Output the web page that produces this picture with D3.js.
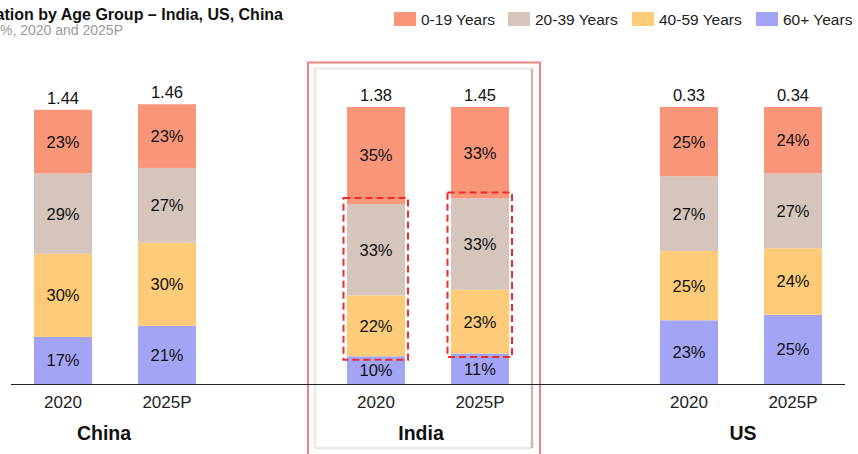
<!DOCTYPE html>
<html>
<head>
<meta charset="utf-8">
<script src="https://cdn.jsdelivr.net/npm/d3@7"></script>
<style>
  html, body { margin: 0; padding: 0; background: #fff; }
  svg { display: block; font-family: "Liberation Sans", Arial, sans-serif; }
</style>
</head>
<body>
<svg id="chart" width="858" height="454"></svg>
<script>
// Population by age group, share in %, with totals (bn)
const countries = ["China", "India", "US"];
const years = ["2020", "2025P"];
const ageGroups = ["0-19 Years", "20-39 Years", "40-59 Years", "60+ Years"];
const totals = {
  China: ["1.44", "1.46"],
  India: ["1.38", "1.45"],
  US: ["0.33", "0.34"]
};
// shares listed bottom-up: 60+, 40-59, 20-39, 0-19
const share60 = { China: [17, 21], India: [10, 11], US: [23, 25] };
const share40 = { China: [30, 30], India: [22, 23], US: [25, 24] };
const share20 = { China: [29, 27], India: [33, 33], US: [27, 27] };
const share0 = { China: [23, 23], India: [35, 33], US: [25, 24] };

const colors = {
  "0-19 Years": "#F9967A",
  "20-39 Years": "#D6C5BD",
  "40-59 Years": "#FECC78",
  "60+ Years": "#A4A4F6"
};

const svg = d3.select("#chart");
const baseY = 384;

const x0 = d3.scaleBand().domain(countries).range([-41.5, 897.5]);
const x1 = d3.scaleBand().domain(years).range([0, x0.bandwidth()])
  .paddingInner(0.4423).paddingOuter(0.726);
const y = d3.scaleLinear().domain([0, 100]).range([baseY, 107]);

// rows for stacking
const rows = [];
countries.forEach(c => years.forEach((yr, i) => {
  rows.push({
    country: c, year: yr, total: totals[c][i],
    "60+ Years": share60[c][i],
    "40-59 Years": share40[c][i],
    "20-39 Years": share20[c][i],
    "0-19 Years": share0[c][i]
  });
}));
const stackKeys = ["60+ Years", "40-59 Years", "20-39 Years", "0-19 Years"];
const series = d3.stack().keys(stackKeys)(rows);

const barX = d => x0(d.data.country) + x1(d.data.year);

// India highlight frames
const indiaL = x0("India") + x0.bandwidth() / 2 - 120;
const indiaR = x0("India") + x0.bandwidth() / 2 + 112;
svg.append("rect")
  .attr("x", indiaL).attr("y", 62.5)
  .attr("width", indiaR - indiaL).attr("height", 420)
  .attr("fill", "none").attr("stroke", "#EC8585").attr("stroke-width", 2);
const inner = svg.append("g");
inner.append("path")
  .attr("d", `M${indiaL + 7},448 V68.5 H${indiaR - 8}`)
  .attr("fill", "none").attr("stroke", "#EAEAEA").attr("stroke-width", 2);
inner.append("path")
  .attr("d", `M${indiaL + 7},448 H${indiaR - 8}`)
  .attr("fill", "none").attr("stroke", "#E6E6E6").attr("stroke-width", 2);
inner.append("path")
  .attr("d", `M${indiaR - 8},68.5 V448`)
  .attr("fill", "none").attr("stroke", "#BDBDBD").attr("stroke-width", 2.5);

// bars
const layers = svg.append("g").selectAll("g").data(series).join("g")
  .attr("fill", s => colors[s.key]);
layers.selectAll("rect").data(s => s).join("rect")
  .attr("x", barX)
  .attr("width", x1.bandwidth())
  .attr("y", d => y(d[1]))
  .attr("height", d => y(d[0]) - y(d[1]));

// segment percentage labels
const lbl = svg.append("g").attr("font-size", 16.5).attr("fill", "#111")
  .attr("text-anchor", "middle");
series.forEach(s => {
  s.forEach(d => {
    lbl.append("text")
      .attr("x", barX(d) + x1.bandwidth() / 2)
      .attr("y", (y(d[0]) + y(d[1])) / 2)
      .attr("dy", "0.36em")
      .text((d[1] - d[0]) + "%");
  });
});

// totals above bars
const topLayer = series[series.length - 1];
svg.append("g").attr("font-size", 16.5).attr("fill", "#111").attr("text-anchor", "middle")
  .selectAll("text").data(topLayer).join("text")
  .attr("x", d => barX(d) + x1.bandwidth() / 2)
  .attr("y", d => y(d[1]) - 6)
  .text(d => d.data.total);

// dashed highlight around the working-age segments in India
topLayer.filter(d => d.data.country === "India").forEach(d => {
  const r = d.data;
  const lo = r["60+ Years"];
  const hi = lo + r["40-59 Years"] + r["20-39 Years"];
  const bx = barX(d);
  svg.append("rect")
    .attr("x", bx - 3.5).attr("y", y(hi) - 6)
    .attr("width", x1.bandwidth() + 6.5)
    .attr("height", y(lo) - y(hi) + 9.5)
    .attr("fill", "none").attr("stroke", "#EE2A2A").attr("stroke-width", 2)
    .attr("stroke-dasharray", "7,4");
});

// baseline
svg.append("line").attr("x1", 11).attr("x2", 845)
  .attr("y1", baseY + 0.5).attr("y2", baseY + 0.5)
  .attr("stroke", "#222").attr("stroke-width", 1.2);

// year labels
const yl = svg.append("g").attr("font-size", 17).attr("fill", "#222").attr("text-anchor", "middle");
countries.forEach(c => years.forEach(yr => {
  yl.append("text")
    .attr("x", x0(c) + x1(yr) + x1.bandwidth() / 2)
    .attr("y", 408)
    .text(yr);
}));

// country labels, nudged slightly per group
const countryNudge = { China: -11, India: -7, US: 2 };
svg.append("g").attr("font-size", 19.5).attr("font-weight", "bold").attr("fill", "#111")
  .attr("text-anchor", "middle")
  .selectAll("text").data(countries).join("text")
  .attr("x", c => x0(c) + x0.bandwidth() / 2 + countryNudge[c])
  .attr("y", 440)
  .text(c => c);

// title and subtitle (left edge runs past the frame)
svg.append("text").attr("x", 283).attr("y", 20).attr("text-anchor", "end")
  .attr("font-size", 16).attr("font-weight", "bold").attr("fill", "#111")
  .text("Population by Age Group – India, US, China");
svg.append("text").attr("x", 123).attr("y", 35).attr("text-anchor", "end")
  .attr("font-size", 14).attr("fill", "#9A9A9A")
  .text("In %, 2020 and 2025P");

// legend
const legendX = [394, 508, 632, 756];
const lg = svg.append("g");
ageGroups.forEach((k, i) => {
  lg.append("rect").attr("x", legendX[i]).attr("y", 12)
    .attr("width", 22).attr("height", 14).attr("fill", colors[k]);
  lg.append("text").attr("x", legendX[i] + 27).attr("y", 24.5)
    .attr("font-size", 15.5).attr("fill", "#222").text(k);
});
</script>
</body>
</html>
